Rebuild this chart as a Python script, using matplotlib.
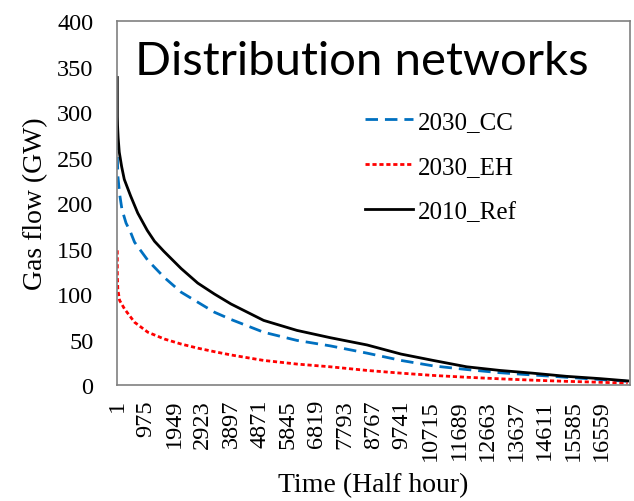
import numpy as np
import matplotlib.pyplot as plt

# half-hour index (sorted duration curve) and gas flow in GW
t_ref = [1, 3, 10, 30, 68, 150, 240, 454, 700, 1024, 1273, 1591, 2184, 2752,
         3321, 3890, 5004, 6143, 7280, 8540, 9700, 10800, 11945, 13080,
         14200, 15358, 16500, 17450]
ref = [338, 295, 285, 272, 256, 240, 226, 208, 189, 170, 158, 147, 128, 112,
       100, 89, 71, 60, 52, 44, 34, 27, 20, 16, 13, 9.5, 7, 4.5]

t_cc = [1, 3, 20, 80, 160, 300, 454, 590, 1045, 1614, 2184, 2752, 3321, 3890,
        5004, 6143, 7280, 8540, 9700, 10800, 11945, 13080, 14200, 15358,
        16500, 17450]
cc = [272, 250, 230, 210, 193, 178, 168, 157, 137, 118, 102, 91, 80, 72,
      58, 49, 43, 35, 27, 21, 17, 13.5, 11, 8.5, 6, 4]

t_eh = [1, 3, 20, 80, 249, 590, 1045, 1614, 2184, 2752, 3321, 3890, 5004,
        6143, 7280, 8540, 9700, 10800, 11945, 13080, 14200, 15358, 16500, 17450]
eh = [148, 120, 105, 93, 83.5, 69, 58, 50.5, 45, 40.5, 36.6, 33, 27,
      23, 20, 16, 13, 10.5, 8.5, 6.8, 5.3, 4, 3, 2]

xticks = list(range(1, 17520, 974))

plt.rcParams['font.family'] = ['Liberation Serif', 'DejaVu Serif']

fig = plt.figure(figsize=(6.34, 5.02), dpi=100)
ax = fig.add_axes([0.1845, 0.2311, 0.8092, 0.7249])

ax.plot(t_cc, cc, color='#0070C0', lw=2, dashes=(4.5, 2.5), label='2030_CC')
ax.plot(t_eh, eh, color='#FF0000', lw=2, dashes=(1.5, 1.0), label='2030_EH')
ax.plot(t_ref, ref, color='black', lw=2, label='2010_Ref')

ax.set_xlim(-10, 17530)
ax.set_ylim(0, 400)
ax.set_yticks(range(0, 401, 50))
ax.set_xticks(xticks)
ax.set_xticklabels([str(v) for v in xticks], rotation=90)
ax.tick_params(length=0, labelsize=17.5)
ax.tick_params(axis='y', pad=17)
ax.tick_params(axis='x', pad=10)

for s in ax.spines.values():
    s.set_color('#808080')
    s.set_linewidth(1.2)

ax.set_xlabel('Time (Half hour)', fontsize=20, labelpad=9)
ax.set_ylabel('Gas flow (GW)', fontsize=20, labelpad=6)

ax.text(0.036, 0.854, 'Distribution networks', transform=ax.transAxes,
        fontsize=34, family=['Lato', 'DejaVu Sans'], va='baseline', ha='left')

ax.legend(loc='upper left', bbox_to_anchor=(0.44, 0.817), frameon=False,
          fontsize=18, handlelength=1.92, handletextpad=0.2, labelspacing=0.905)

fig.savefig('out.png', dpi=100)
